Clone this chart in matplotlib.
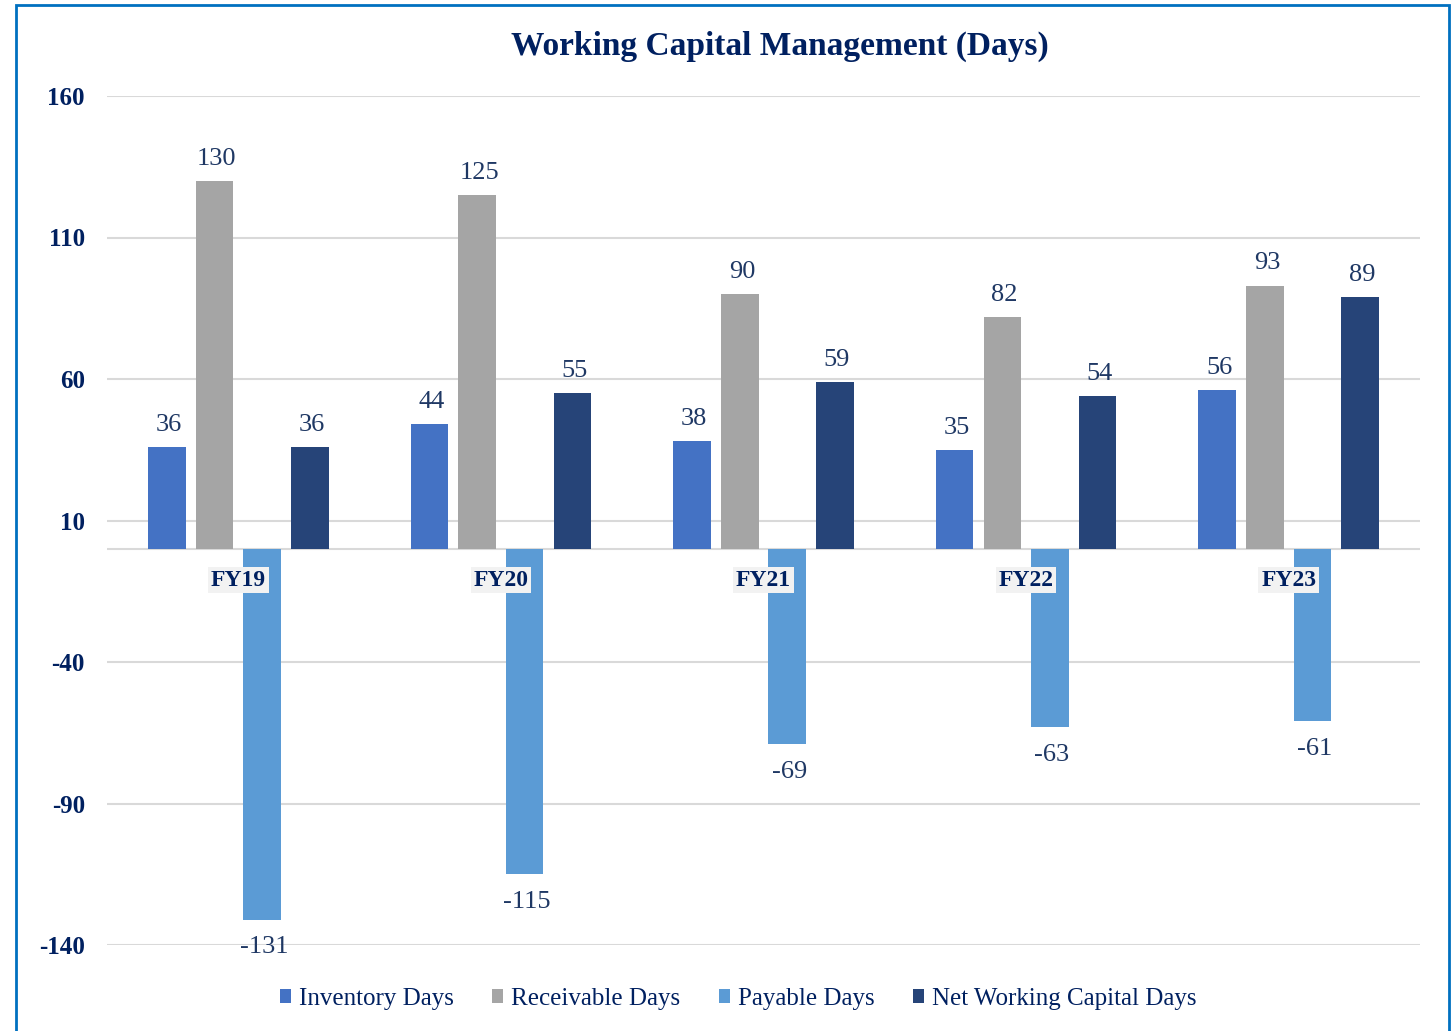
import matplotlib
matplotlib.use("Agg")
import matplotlib.pyplot as plt
import numpy as np
from matplotlib.patches import Rectangle, Patch

categories = ["FY19", "FY20", "FY21", "FY22", "FY23"]
series_names = ["Inventory Days", "Receivable Days", "Payable Days", "Net Working Capital Days"]
inventory = [36, 44, 38, 35, 56]
receivable = [130, 125, 90, 82, 93]
payable = [-131, -115, -69, -63, -61]
nwc = [36, 55, 59, 54, 89]
yticks = [160, 110, 60, 10, -40, -90, -140]

colors = ["#4472C4", "#A5A5A5", "#5B9BD5", "#264478"]
text_color = "#002060"
label_color = "#1F3864"

plt.rcParams['font.family'] = ['Liberation Serif', 'DejaVu Serif']

fig = plt.figure(figsize=(14.55, 10.31), dpi=100)
ax = fig.add_axes([107/1455, 1-945/1031, (1420-107)/1455, (945-96)/1031])

x = np.arange(len(categories))
offsets = [-0.272, -0.09, 0.09, 0.272]
width = 0.143
all_series = [inventory, receivable, payable, nwc]

for s, (vals, off, col) in enumerate(zip(all_series, offsets, colors)):
    ax.bar(x + off, vals, width, color=col, zorder=3, label=series_names[s])
    for xi, v in zip(x + off, vals):
        if v >= 0:
            ax.annotate(str(v), (xi, v), xytext=(1.5, 8), textcoords="offset points",
                        ha="center", va="bottom", fontsize=19, color=label_color, zorder=5)
        else:
            ax.annotate(str(v), (xi, v), xytext=(1.5, -12), textcoords="offset points",
                        ha="center", va="top", fontsize=19, color=label_color, zorder=5)

for i, c in enumerate(categories):
    ax.annotate(c, (x[i], 0), xytext=(0, -22.5), textcoords="offset points",
                ha="center", va="center", fontsize=17, fontweight="bold", color=text_color,
                zorder=6, bbox=dict(boxstyle="square,pad=0.12", facecolor="#F2F2F2", edgecolor="none"))

ax.set_xlim(-0.5, len(categories) - 0.5)
ax.set_ylim(-140, 160)
ax.set_yticks(yticks)
ax.set_yticklabels([str(t) for t in yticks], fontsize=18, fontweight="bold", color=text_color)
ax.tick_params(axis="y", length=0, pad=16)
ax.set_xticks([])
ax.grid(axis="y", color="#D9D9D9", linewidth=1.5, zorder=0)
ax.axhline(0, color="#D9D9D9", linewidth=1.5, zorder=2)
for sp in ax.spines.values():
    sp.set_visible(False)

fig.text(780/1455, 1-46/1031, "Working Capital Management (Days)", ha="center", va="center",
         fontsize=24, fontweight="bold", color=text_color)

handles = [Patch(facecolor=c, edgecolor="none") for c in colors]
leg = fig.legend(handles, series_names, loc="center", bbox_to_anchor=(738/1455, 1-999/1031),
                 ncol=4, frameon=False, fontsize=18, handlelength=0.45, handleheight=0.45,
                 handletextpad=0.3, columnspacing=1.55)
for t in leg.get_texts():
    t.set_color(text_color)

fig.patches.append(Rectangle((16/1455, -0.01), (1449-16)/1455, 1.01-5/1031, transform=fig.transFigure,
                             fill=False, edgecolor="#0070C0", linewidth=2))

fig.savefig("out.png", dpi=100, facecolor="white")
